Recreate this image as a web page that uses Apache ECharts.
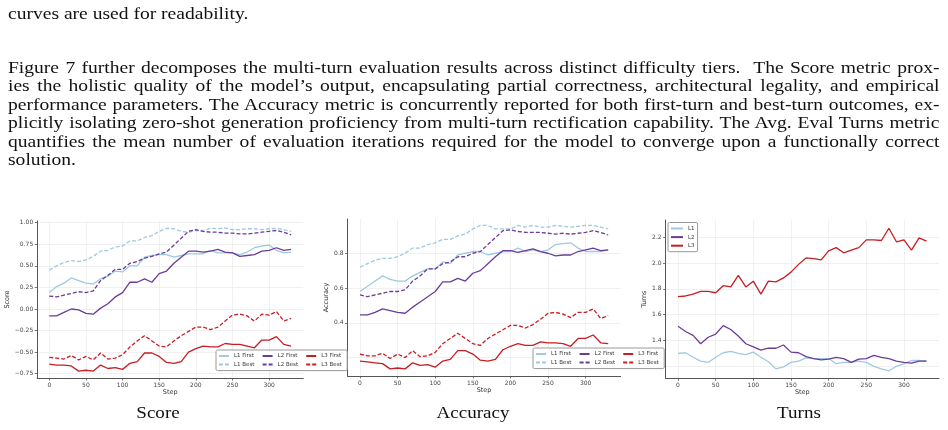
<!DOCTYPE html>
<html>
<head>
<meta charset="utf-8">
<script src="https://cdn.jsdelivr.net/npm/echarts@6/dist/echarts.min.js"></script>
<style>
html, body { margin: 0; padding: 0; background: #fff; }
#page { position: relative; width: 948px; height: 430px; overflow: hidden; }
#chart { position: absolute; left: 0; top: 0; width: 948px; height: 430px; }
.ln {
    position: absolute; left: 8px; z-index: 2;
    font-family: "Liberation Serif", "Times New Roman", serif;
    font-size: 17px; line-height: 18px; color: #111;
    white-space: nowrap; transform-origin: 0 0; transform: scaleX(1.15);
}
.j { width: 810px; text-align: justify; text-align-last: justify; }
.cap {
    position: absolute; z-index: 2; width: 200px; text-align: center;
    font-family: "Liberation Serif", "Times New Roman", serif;
    font-size: 17px; line-height: 18px; color: #111;
    transform-origin: 50% 0; transform: scaleX(1.12);
}
</style>
</head>
<body>
<div id="page">
    <div id="chart"></div>
    <div class="ln" style="top:5px">curves are used for readability.</div>
    <div class="ln j" style="top:59px">Figure 7 further decomposes the multi-turn evaluation results across distinct difficulty tiers. &nbsp;The Score metric prox-</div>
    <div class="ln j" style="top:77.4px">ies the holistic quality of the model’s output, encapsulating partial correctness, architectural legality, and empirical</div>
    <div class="ln j" style="top:95.8px">performance parameters. The Accuracy metric is concurrently reported for both first-turn and best-turn outcomes, ex-</div>
    <div class="ln j" style="top:114.2px">plicitly isolating zero-shot generation proficiency from multi-turn rectification capability. The Avg. Eval Turns metric</div>
    <div class="ln j" style="top:132.6px">quantifies the mean number of evaluation iterations required for the model to converge upon a functionally correct</div>
    <div class="ln" style="top:151px">solution.</div>
    <div class="cap" style="left:58px;top:404px">Score</div>
    <div class="cap" style="left:373px;top:404px">Accuracy</div>
    <div class="cap" style="left:699px;top:404px">Turns</div>
</div>
<script>
    var steps = [0, 10, 20, 30, 40, 50, 60, 70, 80, 90, 100, 110, 120, 130, 140, 150, 160,
        170, 180, 190, 200, 210, 220, 230, 240, 250, 260, 270, 280, 290, 300, 310, 320, 330];
    var stepTicks = [0, 50, 100, 150, 200, 250, 300];

    // Score panel
    var scoreL1First = [0.19, 0.26, 0.30, 0.36, 0.33, 0.30, 0.29, 0.35, 0.38, 0.44, 0.43, 0.50, 0.50, 0.60, 0.62,
        0.63, 0.63, 0.60, 0.62, 0.64, 0.64, 0.64, 0.68, 0.65, 0.65, 0.65, 0.63, 0.66, 0.71, 0.73, 0.74, 0.68, 0.65, 0.66];
    var scoreL1Best = [0.45, 0.50, 0.54, 0.56, 0.55, 0.57, 0.61, 0.67, 0.68, 0.72, 0.73, 0.79, 0.79, 0.83, 0.85,
        0.90, 0.935, 0.93, 0.90, 0.89, 0.91, 0.91, 0.935, 0.93, 0.94, 0.92, 0.92, 0.93, 0.93, 0.92, 0.93, 0.935, 0.92, 0.90];
    var scoreL2First = [-0.08, -0.08, -0.04, 0.00, -0.01, -0.05, -0.06, 0.01, 0.06, 0.14, 0.19, 0.31, 0.31, 0.35, 0.31,
        0.41, 0.44, 0.53, 0.60, 0.67, 0.67, 0.66, 0.67, 0.69, 0.66, 0.65, 0.61, 0.62, 0.63, 0.67, 0.68, 0.71, 0.68, 0.69];
    var scoreL2Best = [0.15, 0.14, 0.16, 0.18, 0.20, 0.19, 0.21, 0.33, 0.39, 0.46, 0.46, 0.53, 0.55, 0.59, 0.61,
        0.64, 0.66, 0.74, 0.82, 0.90, 0.92, 0.90, 0.89, 0.89, 0.88, 0.88, 0.87, 0.87, 0.88, 0.89, 0.90, 0.91, 0.89, 0.86];
    var scoreL3First = [-0.64, -0.65, -0.65, -0.66, -0.72, -0.71, -0.72, -0.65, -0.69, -0.68, -0.70, -0.63, -0.61, -0.51, -0.51,
        -0.55, -0.62, -0.63, -0.61, -0.50, -0.46, -0.43, -0.44, -0.44, -0.40, -0.41, -0.41, -0.43, -0.45, -0.36, -0.36, -0.32, -0.41, -0.43];
    var scoreL3Best = [-0.56, -0.57, -0.58, -0.54, -0.59, -0.55, -0.59, -0.51, -0.58, -0.57, -0.53, -0.44, -0.37, -0.31, -0.37,
        -0.43, -0.44, -0.37, -0.31, -0.26, -0.21, -0.21, -0.24, -0.21, -0.14, -0.07, -0.06, -0.08, -0.14, -0.06, -0.07, -0.03, -0.14, -0.11];
    var scoreTicks = [-0.75, -0.5, -0.25, 0, 0.25, 0.5, 0.75, 1.0];

    // Accuracy panel
    var accL1First = [0.58, 0.61, 0.64, 0.67, 0.65, 0.64, 0.64, 0.67, 0.69, 0.71, 0.71, 0.75, 0.74, 0.79, 0.80,
        0.81, 0.81, 0.79, 0.80, 0.81, 0.81, 0.83, 0.81, 0.82, 0.81, 0.82, 0.85, 0.855, 0.86, 0.83, 0.81, 0.81, 0.81, 0.82];
    var accL1Best = [0.72, 0.74, 0.76, 0.77, 0.77, 0.78, 0.80, 0.83, 0.83, 0.85, 0.86, 0.88, 0.88, 0.90, 0.91,
        0.94, 0.96, 0.96, 0.94, 0.94, 0.94, 0.96, 0.95, 0.96, 0.95, 0.95, 0.96, 0.955, 0.95, 0.955, 0.96, 0.96, 0.95, 0.94];
    var accL2First = [0.445, 0.445, 0.46, 0.48, 0.47, 0.46, 0.455, 0.49, 0.52, 0.55, 0.58, 0.635, 0.635, 0.655, 0.64,
        0.685, 0.70, 0.74, 0.78, 0.815, 0.815, 0.805, 0.815, 0.825, 0.81, 0.80, 0.785, 0.79, 0.79, 0.81, 0.82, 0.83, 0.815, 0.82];
    var accL2Best = [0.56, 0.55, 0.56, 0.57, 0.58, 0.58, 0.59, 0.64, 0.67, 0.71, 0.71, 0.74, 0.75, 0.78, 0.78,
        0.80, 0.81, 0.85, 0.89, 0.93, 0.935, 0.925, 0.92, 0.92, 0.92, 0.915, 0.91, 0.915, 0.91, 0.915, 0.92, 0.93, 0.92, 0.905];
    var accL3First = [0.18, 0.175, 0.17, 0.165, 0.135, 0.14, 0.135, 0.17, 0.155, 0.16, 0.145, 0.18, 0.19, 0.24, 0.24,
        0.22, 0.185, 0.18, 0.19, 0.245, 0.265, 0.28, 0.27, 0.27, 0.29, 0.285, 0.285, 0.28, 0.265, 0.31, 0.31, 0.33, 0.285, 0.28];
    var accL3Best = [0.22, 0.21, 0.21, 0.225, 0.195, 0.22, 0.20, 0.24, 0.205, 0.21, 0.23, 0.28, 0.31, 0.34, 0.31,
        0.28, 0.27, 0.31, 0.335, 0.36, 0.385, 0.385, 0.37, 0.39, 0.42, 0.455, 0.46, 0.45, 0.43, 0.46, 0.46, 0.48, 0.425, 0.44];
    var accTicks = [0.2, 0.4, 0.6, 0.8];

    // Turns panel
    var turnsL1 = [1.30, 1.305, 1.27, 1.24, 1.23, 1.27, 1.305, 1.315, 1.30, 1.29, 1.31, 1.27, 1.235, 1.18, 1.195,
        1.23, 1.24, 1.265, 1.26, 1.26, 1.26, 1.22, 1.23, 1.23, 1.24, 1.23, 1.20, 1.18, 1.165, 1.20, 1.22, 1.245, 1.245, 1.24];
    var turnsL2 = [1.51, 1.47, 1.44, 1.375, 1.425, 1.45, 1.515, 1.485, 1.435, 1.375, 1.35, 1.325, 1.34, 1.34, 1.365,
        1.31, 1.305, 1.275, 1.26, 1.25, 1.255, 1.27, 1.26, 1.23, 1.255, 1.26, 1.285, 1.27, 1.26, 1.24, 1.23, 1.225, 1.24, 1.24];
    var turnsL3 = [1.74, 1.745, 1.76, 1.78, 1.78, 1.77, 1.825, 1.815, 1.905, 1.815, 1.86, 1.76, 1.86, 1.855, 1.885,
        1.93, 1.99, 2.04, 2.035, 2.025, 2.095, 2.12, 2.08, 2.10, 2.12, 2.18, 2.18, 2.175, 2.27, 2.165, 2.18, 2.10, 2.195, 2.17];
    var turnsTicks = [1.2, 1.4, 1.6, 1.8, 2.0, 2.2];

    var C1 = '#9ecae1', C2 = '#6a3d9a', C3 = '#c81d25';
    var AXIS = '#555', GRID = '#ececec', LABEL = '#444';
    var DASH = [4, 2];
    var TICKFONT = 'DejaVu Sans';

    function pairs(ys) {
        return steps.map(function (s, i) { return [s, ys[i]]; });
    }

    function line(name, ys, color, dashed, idx) {
        return {
            name: name, type: 'line', xAxisIndex: idx, yAxisIndex: idx,
            data: pairs(ys), symbol: 'none', showSymbol: false,
            lineStyle: { color: color, width: 1.3, type: dashed ? DASH : 'solid' },
            itemStyle: { color: color },
            emphasis: { disabled: true }
        };
    }

    function xAxis(idx) {
        return {
            type: 'value', gridIndex: idx, min: -16.5, max: 346.5,
            name: 'Step', nameLocation: 'middle', nameGap: 11,
            nameTextStyle: { fontSize: 6.5, color: '#333', fontFamily: TICKFONT },
            axisLine: { onZero: false, lineStyle: { color: AXIS, width: 1 } },
            axisTick: { show: true, customValues: stepTicks, length: 2.5, lineStyle: { color: AXIS, width: 0.8 } },
            axisLabel: { customValues: stepTicks, fontSize: 6, color: LABEL, margin: 4, fontFamily: TICKFONT },
            splitLine: { show: true, lineStyle: { color: GRID, width: 0.8 } }
        };
    }

    function yAxis(idx, min, max, ticks, name, gap, dec) {
        return {
            type: 'value', gridIndex: idx, min: min, max: max,
            name: name, nameLocation: 'middle', nameGap: gap, nameRotate: 90,
            nameTextStyle: { fontSize: 6.5, color: '#333', fontFamily: TICKFONT },
            axisLine: { show: true, onZero: false, lineStyle: { color: AXIS, width: 1 } },
            axisTick: { show: true, customValues: ticks, length: 2.5, lineStyle: { color: AXIS, width: 0.8 } },
            axisLabel: {
                customValues: ticks, fontSize: 6, color: LABEL, margin: 4, fontFamily: TICKFONT,
                formatter: function (v) { return v.toFixed(dec).replace('-', '\u2212'); }
            },
            splitLine: { show: true, lineStyle: { color: GRID, width: 0.8 } }
        };
    }

    function legend(left, top, names, twoCols) {
        return {
            left: left, top: top, orient: 'vertical',
            height: twoCols ? 22 : 'auto',
            data: names, itemWidth: twoCols ? 10 : 12, itemHeight: 5, itemGap: 2.6,
            padding: twoCols ? [3, 1, 3, 2] : [3, 3, 3, 2],
            backgroundColor: '#fff', borderColor: '#999', borderWidth: 1, borderRadius: 1.5,
            selectedMode: false,
            itemStyle: { opacity: 0 },
            textStyle: twoCols
                ? { fontSize: 5.5, color: '#333', fontFamily: TICKFONT, width: 25, lineHeight: 6 }
                : { fontSize: 5.5, color: '#333', fontFamily: TICKFONT, lineHeight: 6 }
        };
    }

    var chart = echarts.init(document.getElementById('chart'), null, { renderer: 'canvas' });
    var sixNames = ['L1 First', 'L1 Best', 'L2 First', 'L2 Best', 'L3 First', 'L3 Best'];

    chart.setOption({
        animation: false,
        backgroundColor: 'transparent',
        grid: [
            { left: 37.2, top: 221, width: 266, height: 157 },
            { left: 347.6, top: 219, width: 273, height: 157 },
            { left: 665.6, top: 220, width: 273.4, height: 158.3 }
        ],
        xAxis: [xAxis(0), xAxis(1), xAxis(2)],
        yAxis: [
            yAxis(0, -0.80, 1.02, scoreTicks, 'Score', 17, 2),
            yAxis(1, 0.094, 0.997, accTicks, 'Accuracy', 12, 1),
            yAxis(2, 1.107, 2.334, turnsTicks, 'Turns', 12, 1)
        ],
        legend: [
            legend(216, 350, sixNames, true),
            legend(533, 348, sixNames, true),
            legend(668, 222.5, ['L1', 'L2', 'L3'], false)
        ],
        series: [
            line('L1 First', scoreL1First, C1, false, 0),
            line('L1 Best', scoreL1Best, C1, true, 0),
            line('L2 First', scoreL2First, C2, false, 0),
            line('L2 Best', scoreL2Best, C2, true, 0),
            line('L3 First', scoreL3First, C3, false, 0),
            line('L3 Best', scoreL3Best, C3, true, 0),
            line('L1 First', accL1First, C1, false, 1),
            line('L1 Best', accL1Best, C1, true, 1),
            line('L2 First', accL2First, C2, false, 1),
            line('L2 Best', accL2Best, C2, true, 1),
            line('L3 First', accL3First, C3, false, 1),
            line('L3 Best', accL3Best, C3, true, 1),
            line('L1', turnsL1, C1, false, 2),
            line('L2', turnsL2, C2, false, 2),
            line('L3', turnsL3, C3, false, 2)
        ]
    });
</script>
</body>
</html>
